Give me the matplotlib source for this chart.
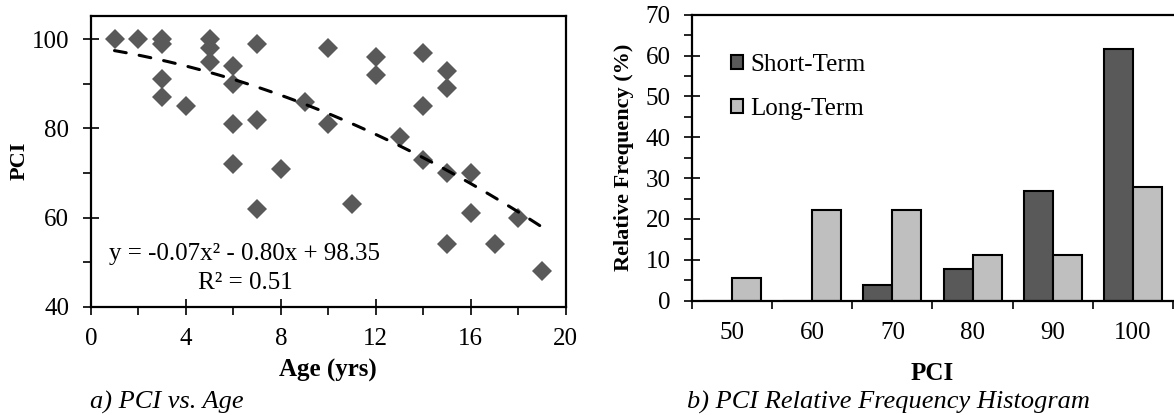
import numpy as np
import matplotlib.pyplot as plt
from matplotlib.patches import Patch

plt.rcParams['font.family'] = ['Liberation Serif', 'DejaVu Serif']
plt.rcParams['font.size'] = 18

# a) PCI vs. Age scatter data
age = [1, 2, 3, 3, 3, 3, 4, 5, 5, 5, 6, 6, 6, 6, 7, 7, 7, 8, 9, 10, 10,
       11, 12, 12, 13, 14, 14, 14, 15, 15, 15, 15, 16, 16, 17, 18, 19]
pci = [100, 100, 100, 99, 91, 87, 85, 100, 98, 95, 94, 90, 81, 72, 99, 82, 62,
       71, 86, 98, 81, 63, 96, 92, 78, 97, 85, 73, 93, 89, 70, 54, 70, 61, 54, 60, 48]

# quadratic trend reported on the chart
trend_coef = [-0.07, -0.80, 98.35]
trend_range = [1, 19]

# b) histogram data
pci_bins = ['50', '60', '70', '80', '90', '100']
short_term = [0, 0, 3.8, 7.7, 26.9, 61.5]
long_term = [5.6, 22.2, 22.2, 11.1, 11.1, 27.8]

dark = '#595959'
light = '#bfbfbf'

fig = plt.figure(figsize=(11.74, 4.15), dpi=100)

# ---- left panel
ax1 = fig.add_axes([0.0773, 0.261, 0.4046, 0.701])
ax1.plot(age, pci, linestyle='none', marker='D', markersize=10,
         color=dark, markeredgewidth=0)
xt = np.linspace(trend_range[0], trend_range[1], 100)
ax1.plot(xt, np.polyval(trend_coef, xt), color='black', lw=2.2,
         dashes=(3.9, 4.3), dash_capstyle='round')
ax1.set_xlim(0, 20)
ax1.set_ylim(40, 105.3)
ax1.set_xticks(range(0, 21, 4))
ax1.set_xticks(range(2, 20, 4), minor=True)
ax1.set_yticks(range(40, 101, 20))
ax1.set_yticks(range(50, 100, 20), minor=True)
ax1.set_xlabel('Age (yrs)', fontweight='bold', labelpad=6)
ax1.set_ylabel('PCI', fontweight='bold', fontsize=16, labelpad=1.5)
ax1.text(6.47, 51.8, 'y = -0.07x\u00b2 - 0.80x + 98.35', ha='center', va='center')
ax1.text(6.5, 45.4, 'R\u00b2 = 0.51', ha='center', va='center')

# ---- right panel
ax2 = fig.add_axes([0.5895, 0.2754, 0.4095, 0.6892])
x = np.arange(len(pci_bins))
w = 0.362
ax2.bar(x - w / 2, short_term, width=w, color=dark, edgecolor='black', lw=1.5,
        label='Short-Term')
ax2.bar(x + w / 2, long_term, width=w, color=light, edgecolor='black', lw=1.5,
        label='Long-Term')
ax2.set_xlim(-0.5, len(pci_bins) - 0.5)
ax2.set_ylim(0, 70)
ax2.set_yticks(range(0, 71, 10))
ax2.set_yticks(range(5, 70, 10), minor=True)
ax2.set_xticks(np.arange(-0.5, len(pci_bins) - 0.4, 1), labels=[''] * (len(pci_bins) + 1))
ax2.set_xticks(x, labels=pci_bins, minor=True)
ax2.spines['right'].set_visible(False)
ax2.set_xlabel('PCI', fontweight='bold', labelpad=13)
ax2.set_ylabel('Relative Frequency (%)', fontweight='bold', fontsize=16, labelpad=8)
handles = [Patch(facecolor=dark, edgecolor='black', lw=1.5),
           Patch(facecolor=light, edgecolor='black', lw=1.5)]
ax2.legend(handles, ['Short-Term', 'Long-Term'], loc='upper left',
           bbox_to_anchor=(0.054, 0.908), frameon=False, borderpad=0,
           handlelength=0.5, handleheight=0.5, handletextpad=0.3, labelspacing=0.9)

for ax in (ax1, ax2):
    for s in ax.spines.values():
        s.set_linewidth(1.6)
    ax.tick_params(which='major', direction='inout', length=11, width=1.2, pad=10)
    ax.tick_params(which='minor', direction='out', length=5.5, width=1.2)

ax2.tick_params(axis='x', which='major', direction='out', length=5.5, pad=0)
ax2.tick_params(axis='x', which='minor', length=0, pad=15)

fig.text(0.077, 0.03, 'a) PCI vs. Age', style='italic', fontsize=19, va='center')
fig.text(0.757, 0.03, 'b) PCI Relative Frequency Histogram', style='italic',
         fontsize=19, ha='center', va='center')

fig.savefig('out.png', dpi=100)
